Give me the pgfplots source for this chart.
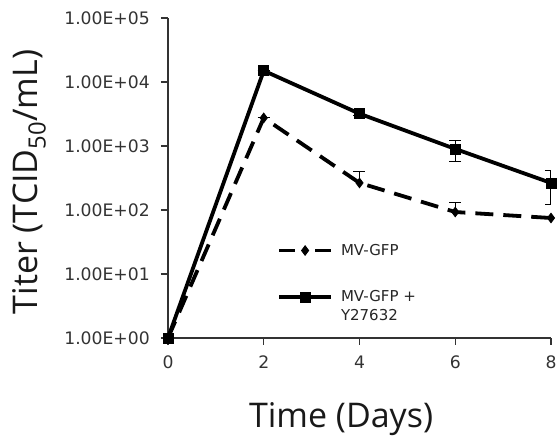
\documentclass[border=0pt]{standalone}
\usepackage{pgfplots}
\pgfplotsset{compat=1.18}
\usepackage{fontspec}
\setmainfont{Open Sans}
\newfontfamily\tickfont{DejaVu Sans}

\pgfplotsset{
  dashleg/.style={legend image code/.code={
    \draw[##1, dash pattern=on 16pt off 20pt] (0pt,0pt) -- (52pt,0pt);
    \draw[mark repeat=2, mark phase=2, ##1, draw=none] plot coordinates {(0pt,0pt) (26pt,0pt) (52pt,0pt)};}},
  solidleg/.style={legend image code/.code={
    \draw[mark repeat=2, mark phase=2, ##1] plot coordinates {(0pt,9.5pt) (26pt,9.5pt) (52pt,9.5pt)};}},
}

\pgfplotstableread{
x y ep
0 1 0
2 2750 0
4 265 128
6 93 36
8 75 0
}\mvgfp
\pgfplotstableread{
x y ep em
0 1 0 0
2 15000 0 0
4 3200 250 250
6 900 330 330
8 265 145 145
}\mvgfpy

\begin{document}
\begin{tikzpicture}
\useasboundingbox (-168pt,-107pt) rectangle (389pt,338pt);
\begin{axis}[
  at={(0pt,0pt)}, anchor=south west,
  scale only axis, width=383pt, height=320pt,
  ymode=log, ymin=1, ymax=1e5, xmin=0, xmax=8,
  axis lines=left,
  axis line style={-, line width=1.3pt, black!80},
  xtick={0,2,4,6,8},
  ytick={1,10,100,1000,10000,100000},
  yticklabels={1.00E+00,1.00E+01,1.00E+02,1.00E+03,1.00E+04,1.00E+05},
  yminorticks=false,
  tick align=outside, major tick length=7pt,
  tick style={line width=1.3pt, black!80},
  ticklabel style={font=\tickfont\fontsize{17.2}{19}\selectfont, text=black!80},
  yticklabel style={inner sep=2pt, xshift=-9pt},
  xticklabel style={inner sep=2pt, yshift=-9pt, /pgf/number format/assume math mode=true},
  xlabel={Time (Days)},
  ylabel={Titer (TCID\textsubscript{50}/mL)},
  label style={font=\fontsize{34}{40}\selectfont, text=black!90},
  xlabel style={at={(axis description cs:0.452,-0.281)}, anchor=base},
  ylabel style={at={(axis description cs:-0.342,0.4875)}, anchor=base},
  legend style={at={(axis description cs:0.2846,0.30)}, anchor=north west,
    draw=none, fill=none, inner sep=0pt,
    font=\tickfont\fontsize{15}{19}\selectfont, text=black!85,
    row sep=30pt,
    nodes={align=left, inner sep=2pt},
    /tikz/every odd column/.append style={column sep=6pt}},
  legend cell align=left,
  error bars/error bar style={line width=1pt, black},
  error bars/error mark options={rotate=90, mark size=6pt, line width=1pt, black},
]
\addplot[black, line width=3.8pt, dash pattern=on 18pt off 10pt,
  mark=diamond*, mark size=4.8pt, mark options={solid, line width=0.8pt}, dashleg,
  error bars/.cd, y dir=plus, y explicit,
  ] table[x=x, y=y, y error plus=ep] {\mvgfp};
\addlegendentry{MV-GFP}
\addplot[black, line width=3.8pt, mark=square*, mark size=5pt, mark options={line width=0.8pt}, solidleg,
  error bars/.cd, y dir=both, y explicit,
  ] table[x=x, y=y, y error plus=ep, y error minus=em] {\mvgfpy};
\addlegendentry{MV-GFP +\\Y27632}
\end{axis}
\end{tikzpicture}
\end{document}
